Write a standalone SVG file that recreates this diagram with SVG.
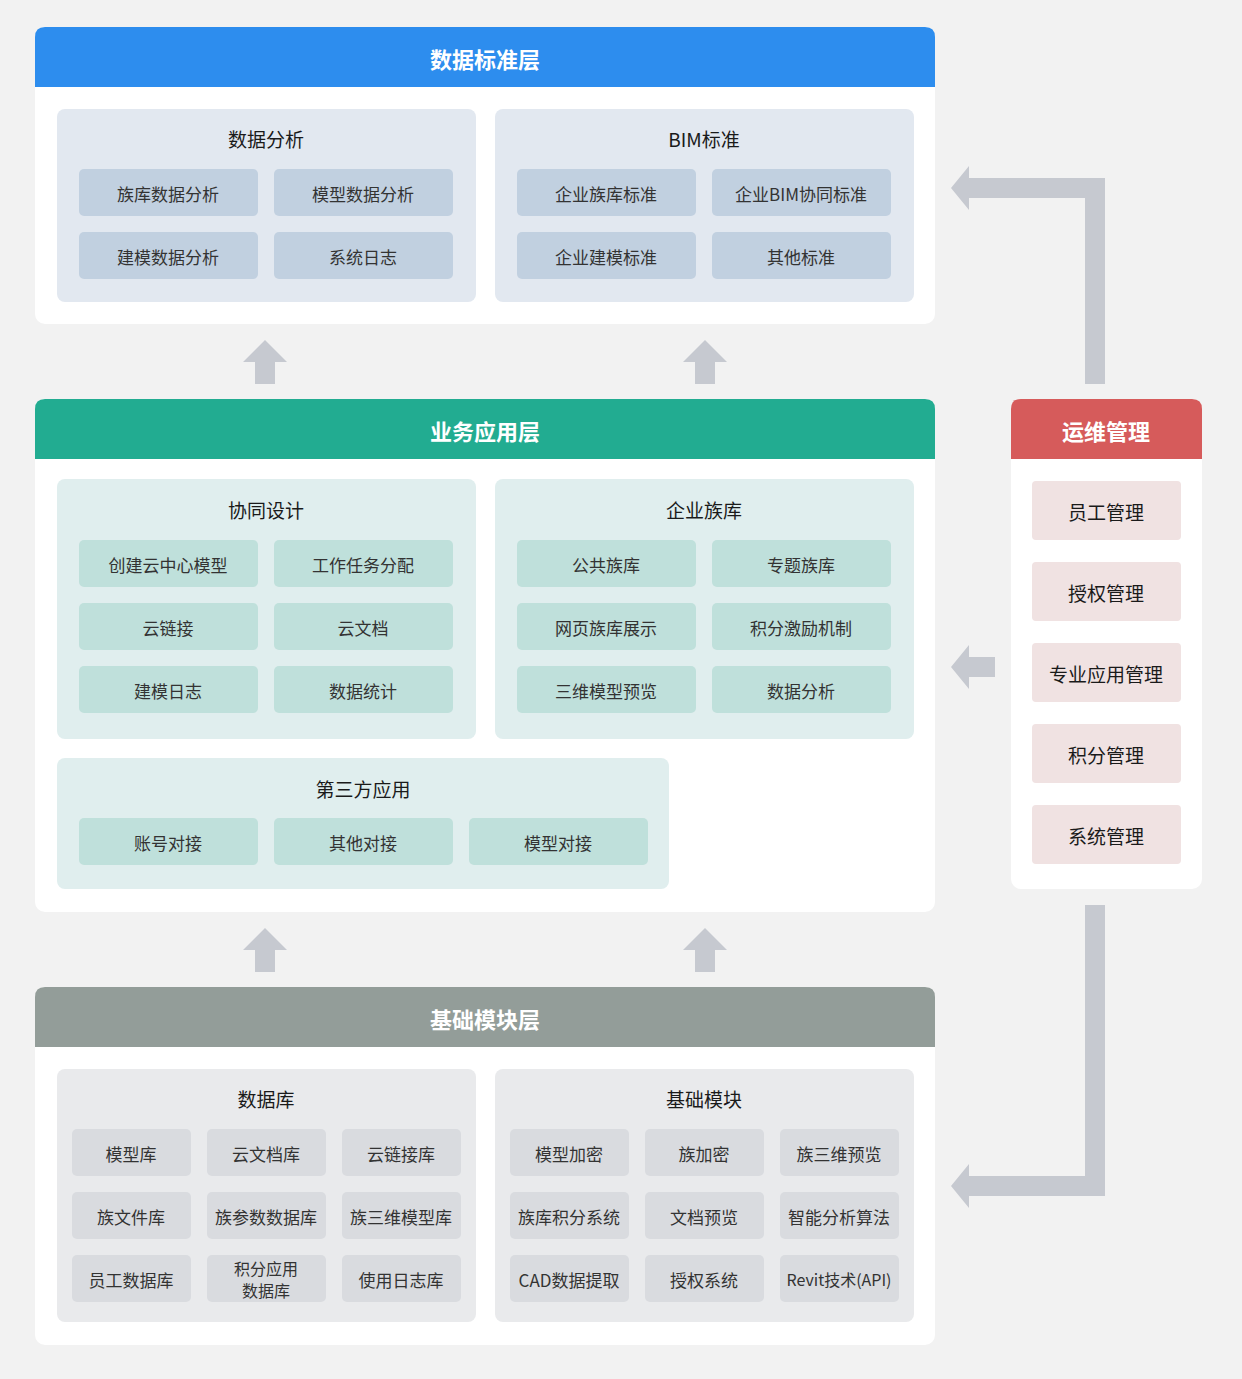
<svg xmlns="http://www.w3.org/2000/svg" width="1242" height="1379" viewBox="0 0 1242 1379">
<style>
text{font-family:"Noto Sans CJK SC","Noto Sans",sans-serif;text-anchor:middle;dominant-baseline:central}
.h{font-size:22px;font-weight:bold;fill:#fff}
.g{font-size:19px;fill:#1a1a1a}
.c{font-size:17px;fill:#333}
.r{font-size:19px;fill:#1a1a1a}
.arr{fill:#C6C9D0}
</style>
<rect width="1242" height="1379" fill="#F2F2F2"/>
<g id="connectors">
<path class="arr" d="M243,362 L265,340 L287,362 L275,362 L275,384 L255,384 L255,362Z"/>
<path class="arr" d="M683,362 L705,340 L727,362 L715,362 L715,384 L695,384 L695,362Z"/>
<path class="arr" d="M243,950 L265,928 L287,950 L275,950 L275,972 L255,972 L255,950Z"/>
<path class="arr" d="M683,950 L705,928 L727,950 L715,950 L715,972 L695,972 L695,950Z"/>
<path class="arr" d="M1085,384 L1105,384 L1105,178 L969,178 L969,166 L951,188 L969,210 L969,198 L1085,198Z"/>
<path class="arr" d="M995,657 L969,657 L969,645 L951,667 L969,689 L969,677 L995,677Z"/>
<path class="arr" d="M1085,905 L1105,905 L1105,1196 L969,1196 L969,1208 L951,1186 L969,1164 L969,1176 L1085,1176Z"/>
</g>
<g id="layer-standard">
<rect x="35" y="27" width="900" height="297" rx="10" fill="#fff"/>
<path d="M35,87 L35,37 Q35,27 45,27 L925,27 Q935,27 935,37 L935,87Z" fill="#2D8DEE"/>
<text class="h" x="485" y="58">数据标准层</text>
</g>
<g id="grp-analysis">
<rect x="57" y="109" width="419" height="193" rx="8" fill="#E2E8F0"/>
<text class="g" x="266" y="138">数据分析</text>
<g fill="#C1D0E0"><rect x="79" y="169" width="179" height="47" rx="5"/><rect x="274" y="169" width="179" height="47" rx="5"/><rect x="79" y="232" width="179" height="47" rx="5"/><rect x="274" y="232" width="179" height="47" rx="5"/></g>
<text class="c" x="168" y="193">族库数据分析</text><text class="c" x="363" y="193">模型数据分析</text><text class="c" x="168" y="256">建模数据分析</text><text class="c" x="363" y="256">系统日志</text>
</g>
<g id="grp-bim">
<rect x="495" y="109" width="419" height="193" rx="8" fill="#E2E8F0"/>
<text class="g" x="704" y="138">BIM标准</text>
<g fill="#C1D0E0"><rect x="517" y="169" width="179" height="47" rx="5"/><rect x="712" y="169" width="179" height="47" rx="5"/><rect x="517" y="232" width="179" height="47" rx="5"/><rect x="712" y="232" width="179" height="47" rx="5"/></g>
<text class="c" x="606" y="193">企业族库标准</text><text class="c" x="801" y="193">企业BIM协同标准</text><text class="c" x="606" y="256">企业建模标准</text><text class="c" x="801" y="256">其他标准</text>
</g>
<g id="layer-business">
<rect x="35" y="399" width="900" height="513" rx="10" fill="#fff"/>
<path d="M35,459 L35,409 Q35,399 45,399 L925,399 Q935,399 935,409 L935,459Z" fill="#22AC91"/>
<text class="h" x="485" y="430">业务应用层</text>
</g>
<g id="grp-collab">
<rect x="57" y="479" width="419" height="260" rx="8" fill="#E0EEEE"/>
<text class="g" x="266" y="509">协同设计</text>
<g fill="#BFE0DB"><rect x="79" y="540" width="179" height="47" rx="5"/><rect x="274" y="540" width="179" height="47" rx="5"/><rect x="79" y="603" width="179" height="47" rx="5"/><rect x="274" y="603" width="179" height="47" rx="5"/><rect x="79" y="666" width="179" height="47" rx="5"/><rect x="274" y="666" width="179" height="47" rx="5"/></g>
<text class="c" x="168" y="564">创建云中心模型</text><text class="c" x="363" y="564">工作任务分配</text><text class="c" x="168" y="627">云链接</text><text class="c" x="363" y="627">云文档</text><text class="c" x="168" y="690">建模日志</text><text class="c" x="363" y="690">数据统计</text>
</g>
<g id="grp-family">
<rect x="495" y="479" width="419" height="260" rx="8" fill="#E0EEEE"/>
<text class="g" x="704" y="509">企业族库</text>
<g fill="#BFE0DB"><rect x="517" y="540" width="179" height="47" rx="5"/><rect x="712" y="540" width="179" height="47" rx="5"/><rect x="517" y="603" width="179" height="47" rx="5"/><rect x="712" y="603" width="179" height="47" rx="5"/><rect x="517" y="666" width="179" height="47" rx="5"/><rect x="712" y="666" width="179" height="47" rx="5"/></g>
<text class="c" x="606" y="564">公共族库</text><text class="c" x="801" y="564">专题族库</text><text class="c" x="606" y="627">网页族库展示</text><text class="c" x="801" y="627">积分激励机制</text><text class="c" x="606" y="690">三维模型预览</text><text class="c" x="801" y="690">数据分析</text>
</g>
<g id="grp-third">
<rect x="57" y="758" width="612" height="131" rx="8" fill="#E0EEEE"/>
<text class="g" x="363" y="788">第三方应用</text>
<g fill="#BFE0DB"><rect x="79" y="818" width="179" height="47" rx="5"/><rect x="274" y="818" width="179" height="47" rx="5"/><rect x="469" y="818" width="179" height="47" rx="5"/></g>
<text class="c" x="168" y="842">账号对接</text><text class="c" x="363" y="842">其他对接</text><text class="c" x="558" y="842">模型对接</text>
</g>
<g id="layer-base">
<rect x="35" y="987" width="900" height="358" rx="10" fill="#fff"/>
<path d="M35,1047 L35,997 Q35,987 45,987 L925,987 Q935,987 935,997 L935,1047Z" fill="#939D99"/>
<text class="h" x="485" y="1018">基础模块层</text>
</g>
<g id="grp-db">
<rect x="57" y="1069" width="419" height="253" rx="8" fill="#E9EAEC"/>
<text class="g" x="266" y="1098">数据库</text>
<g fill="#D9DBDF"><rect x="72" y="1129" width="119" height="47" rx="5"/><rect x="207" y="1129" width="119" height="47" rx="5"/><rect x="342" y="1129" width="119" height="47" rx="5"/><rect x="72" y="1192" width="119" height="47" rx="5"/><rect x="207" y="1192" width="119" height="47" rx="5"/><rect x="342" y="1192" width="119" height="47" rx="5"/><rect x="72" y="1255" width="119" height="47" rx="5"/><rect x="207" y="1255" width="119" height="47" rx="5"/><rect x="342" y="1255" width="119" height="47" rx="5"/></g>
<text class="c" x="131" y="1153">模型库</text><text class="c" x="266" y="1153">云文档库</text><text class="c" x="401" y="1153">云链接库</text>
<text class="c" x="131" y="1216">族文件库</text><text class="c" x="266" y="1216">族参数数据库</text><text class="c" x="401" y="1216">族三维模型库</text>
<text class="c" x="131" y="1279">员工数据库</text><text class="c" x="266" y="1268" style="font-size:16px">积分应用</text><text class="c" x="266" y="1290" style="font-size:16px">数据库</text><text class="c" x="401" y="1279">使用日志库</text>
</g>
<g id="grp-module">
<rect x="495" y="1069" width="419" height="253" rx="8" fill="#E9EAEC"/>
<text class="g" x="704" y="1098">基础模块</text>
<g fill="#D9DBDF"><rect x="510" y="1129" width="119" height="47" rx="5"/><rect x="645" y="1129" width="119" height="47" rx="5"/><rect x="780" y="1129" width="119" height="47" rx="5"/><rect x="510" y="1192" width="119" height="47" rx="5"/><rect x="645" y="1192" width="119" height="47" rx="5"/><rect x="780" y="1192" width="119" height="47" rx="5"/><rect x="510" y="1255" width="119" height="47" rx="5"/><rect x="645" y="1255" width="119" height="47" rx="5"/><rect x="780" y="1255" width="119" height="47" rx="5"/></g>
<text class="c" x="569" y="1153">模型加密</text><text class="c" x="704" y="1153">族加密</text><text class="c" x="839" y="1153">族三维预览</text>
<text class="c" x="569" y="1216">族库积分系统</text><text class="c" x="704" y="1216">文档预览</text><text class="c" x="839" y="1216">智能分析算法</text>
<text class="c" x="569" y="1279">CAD数据提取</text><text class="c" x="704" y="1279">授权系统</text><text class="c" x="839" y="1279" style="font-size:16px">Revit技术(API)</text>
</g>
<g id="ops">
<rect x="1011" y="399" width="191" height="490" rx="10" fill="#fff"/>
<path d="M1011,459 L1011,409 Q1011,399 1021,399 L1192,399 Q1202,399 1202,409 L1202,459Z" fill="#D65B5B"/>
<text class="h" x="1106" y="430">运维管理</text>
<g fill="#F0E2E2"><rect x="1032" y="481" width="149" height="59" rx="4"/><rect x="1032" y="562" width="149" height="59" rx="4"/><rect x="1032" y="643" width="149" height="59" rx="4"/><rect x="1032" y="724" width="149" height="59" rx="4"/><rect x="1032" y="805" width="149" height="59" rx="4"/></g>
<text class="r" x="1106" y="511">员工管理</text><text class="r" x="1106" y="592">授权管理</text><text class="r" x="1106" y="673">专业应用管理</text><text class="r" x="1106" y="754">积分管理</text><text class="r" x="1106" y="835">系统管理</text>
</g>
</svg>
